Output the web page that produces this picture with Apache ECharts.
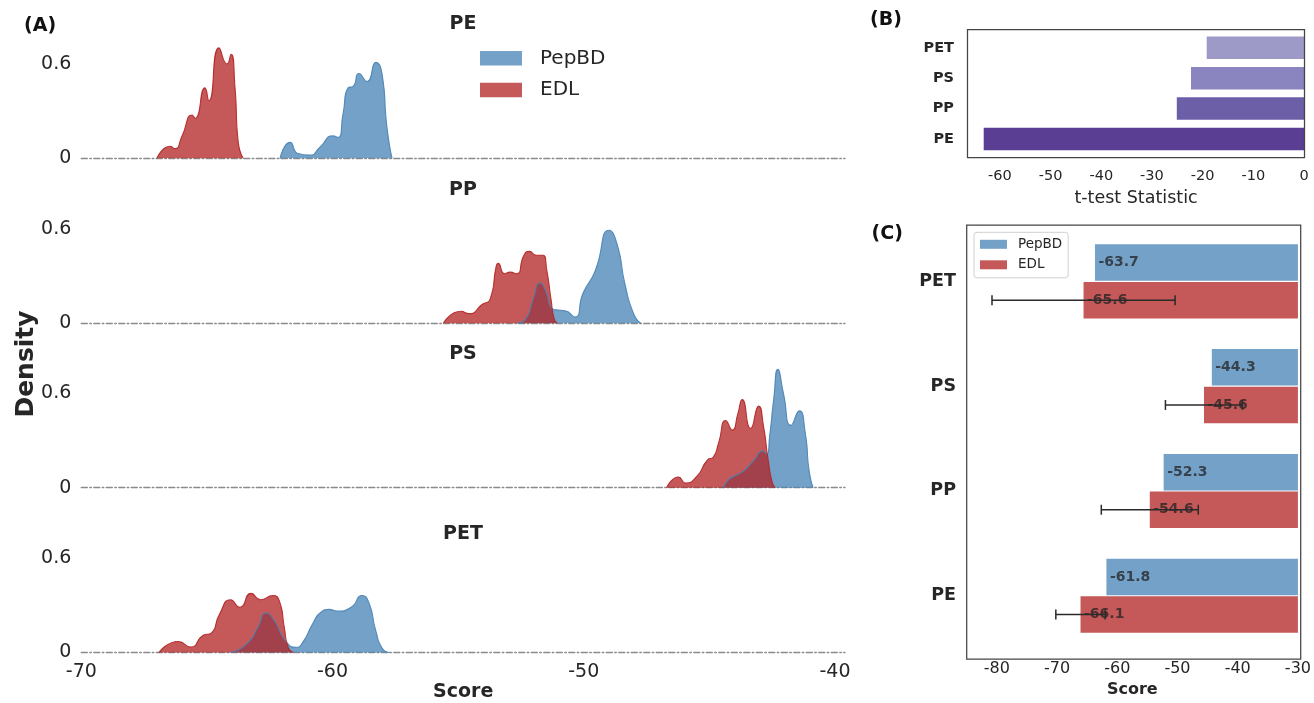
<!DOCTYPE html>
<html>
<head>
<meta charset="utf-8">
<script src="https://cdn.jsdelivr.net/npm/echarts@6/dist/echarts.min.js"></script>
<style>html,body{margin:0;padding:0;background:#fff;}#c{width:1314px;height:703px;}</style>
</head>
<body>
<div id="c"></div>
<script>
// ---------- Data ----------
const panelNames = ['PE', 'PP', 'PS', 'PET'];
const scoreTicks = [-70, -60, -50, -40];
const densityTicks = [0, 0.6];

// density curves [score, density]
const pepbdPE = [[-62.09,0],[-61.69,0.101],[-61.37,0.03],[-60.90,0.02],[-60.50,0.071],[-59.98,0.142],[-59.78,0.132],[-59.58,0.284],[-59.38,0.446],[-59.18,0.456],[-58.95,0.537],[-58.63,0.487],[-58.27,0.608],[-58.03,0.537],[-57.83,0.193],[-57.63,0]];
const edlPE = [[-66.99,0],[-66.47,0.076],[-66.27,0.061],[-65.99,0.142],[-65.59,0.274],[-65.47,0.254],[-65.08,0.446],[-64.92,0.365],[-64.52,0.70],[-64.20,0.598],[-64.04,0.659],[-63.88,0.446],[-63.76,0.112],[-63.56,0]];
const pepbdPP = [[-52.66,0],[-52.30,0.03],[-52.02,0.15],[-51.74,0.255],[-51.50,0.2],[-51.30,0.1],[-51.10,0.085],[-50.74,0.08],[-50.35,0.04],[-50.03,0.19],[-49.55,0.33],[-48.99,0.59],[-48.67,0.5],[-48.36,0.25],[-48.01,0.06],[-47.73,0]];
const edlPP = [[-55.59,0],[-54.89,0.076],[-54.57,0.061],[-54.02,0.122],[-53.73,0.152],[-53.48,0.365],[-53.41,0.38],[-53.15,0.314],[-52.93,0.324],[-52.67,0.314],[-52.38,0.431],[-52.17,0.456],[-51.88,0.431],[-51.62,0.431],[-51.47,0.335],[-51.30,0.15],[-51.18,0.03],[-51.06,0]];
const pepbdPS = [[-44.45,0],[-44.24,0.05],[-43.98,0.076],[-43.76,0.093],[-43.54,0.12],[-43.21,0.177],[-42.88,0.233],[-42.71,0.213],[-42.60,0.325],[-42.44,0.558],[-42.27,0.75],[-42.05,0.598],[-41.75,0.395],[-41.42,0.487],[-41.18,0.345],[-41.03,0.11],[-40.87,0]];
const edlPS = [[-46.70,0],[-46.23,0.068],[-45.94,0.03],[-45.50,0.071],[-45.07,0.177],[-44.85,0.193],[-44.63,0.284],[-44.35,0.426],[-44.08,0.365],[-43.87,0.466],[-43.69,0.558],[-43.36,0.375],[-43.04,0.517],[-42.84,0.385],[-42.66,0.177],[-42.49,0.03],[-42.38,0]];
const pepbdPET = [[-64.06,0],[-63.41,0.055],[-62.97,0.16],[-62.65,0.25],[-62.32,0.203],[-61.88,0.076],[-61.45,0.033],[-61.18,0.066],[-60.79,0.182],[-60.46,0.256],[-60.14,0.273],[-59.80,0.262],[-59.26,0.287],[-58.83,0.361],[-58.56,0.319],[-58.28,0.14],[-58.02,0.027],[-57.73,0]];
const edlPET = [[-66.91,0],[-66.14,0.07],[-65.64,0.035],[-65.16,0.108],[-64.83,0.123],[-64.50,0.243],[-64.06,0.334],[-63.69,0.287],[-63.24,0.375],[-62.86,0.334],[-62.38,0.361],[-62.10,0.319],[-61.92,0.16],[-61.77,0.033],[-61.55,0]];

// Panel B
const tCats = ['PE', 'PP', 'PS', 'PET'];
const tStat = [-63.2, -25.1, -22.3, -19.2];
const tTicks = [-60, -50, -40, -30, -20, -10, 0];

// Panel C
const scoreCats = ['PE', 'PP', 'PS', 'PET'];
const pepbdMean = [-61.8, -52.3, -44.3, -63.7];
const edlMean = [-66.1, -54.6, -45.6, -65.6];
const edlErr = [4.1, 8.05, 6.4, 15.2];
const scoreTicksC = [-80, -70, -60, -50, -40, -30];

// ---------- Styles ----------
const BLUE = '#4682B4', RED = '#B22222', ALPHA = 0.75;
const TXT = '#262626';
const FONT = 'DejaVu Sans';
const purples = ['#5a3e94', '#6d5ea8', '#8a84bf', '#9e9ac8'];

const pepbdCurves = [pepbdPE, pepbdPP, pepbdPS, pepbdPET];
const edlCurves = [edlPE, edlPP, edlPS, edlPET];
const baselines = [158.3, 323.3, 487.7, 652.5];
const yMax = 0.8, pxPerUnit = 157.8;
const gH = yMax * pxPerUnit;
const titleCenters = [24.5, 190, 354, 534.5];
const SMOOTH = 0.6;

const grids = [], xAxes = [], yAxes = [], series = [], titles = [];
for (let i = 0; i < 4; i++) {
  grids.push({left: 81.3, right: 1314 - 845, top: baselines[i] - gH, height: gH});
  const last = i === 3;
  xAxes.push({
    gridIndex: i, type: 'value', min: -70, max: -39.6,
    axisLine: {show: true, onZero: false, lineStyle: {color: '#8a8a8a', width: 1.4, type: [6, 2.5, 1.5, 2.5]}},
    axisTick: {show: false}, splitLine: {show: false},
    axisLabel: {show: last, customValues: scoreTicks, fontSize: 19, color: TXT, fontFamily: FONT, margin: 10},
    name: last ? 'Score' : '', nameLocation: 'middle', nameGap: 30,
    nameTextStyle: {fontSize: 19, fontWeight: 'bold', color: TXT, fontFamily: FONT}
  });
  yAxes.push({
    gridIndex: i, type: 'value', min: 0, max: yMax,
    axisLine: {show: false}, axisTick: {show: false}, splitLine: {show: false},
    axisLabel: {customValues: densityTicks, fontSize: 19, color: TXT, fontFamily: FONT, margin: 10}
  });
  series.push({
    type: 'line', name: 'PepBD', xAxisIndex: i, yAxisIndex: i, data: pepbdCurves[i],
    smooth: SMOOTH, showSymbol: false, silent: true, z: 3,
    lineStyle: {color: BLUE, width: 1.1, opacity: 0.9}, itemStyle: {color: BLUE},
    areaStyle: {color: BLUE, opacity: ALPHA}
  });
  series.push({
    type: 'line', name: 'EDL', xAxisIndex: i, yAxisIndex: i, data: edlCurves[i],
    smooth: SMOOTH, showSymbol: false, silent: true, z: 3,
    lineStyle: {color: RED, width: 1.1, opacity: 0.9}, itemStyle: {color: RED},
    areaStyle: {color: RED, opacity: ALPHA}
  });
  titles.push({text: panelNames[i], left: 463, top: titleCenters[i] - 10, textAlign: 'center', padding: 0,
    textStyle: {fontSize: 19, fontWeight: 'bold', color: TXT, fontFamily: FONT, lineHeight: 20}});
}

// Panel B grid (index 4)
grids.push({left: 968, right: 10, top: 32.6, height: 121.6});
xAxes.push({
  gridIndex: 4, type: 'value', min: -66.3, max: 0,
  axisLine: {show: false}, axisTick: {show: false}, splitLine: {show: false},
  axisLabel: {customValues: tTicks, fontSize: 14.5, color: TXT, fontFamily: FONT, margin: 15},
  name: 't-test Statistic', nameLocation: 'middle', nameGap: 35,
  nameTextStyle: {fontSize: 17.5, color: TXT, fontFamily: FONT}
});
yAxes.push({
  gridIndex: 4, type: 'category', data: tCats,
  axisLine: {show: false}, axisTick: {show: false},
  axisLabel: {fontSize: 14.5, fontWeight: 'bold', color: TXT, fontFamily: FONT, margin: 14}
});
series.push({
  type: 'bar', xAxisIndex: 4, yAxisIndex: 4, barWidth: 22.5, silent: true,
  data: tStat.map((v, k) => ({value: v, itemStyle: {color: purples[k]}}))
});

// Panel C grid (index 5)
grids.push({left: 966.7, right: 1314 - 1300.7, top: 229, height: 426});
xAxes.push({
  gridIndex: 5, type: 'value', min: -85, max: -30,
  axisLine: {show: false}, axisTick: {show: false}, splitLine: {show: false},
  axisLabel: {customValues: scoreTicksC, fontSize: 16, color: TXT, fontFamily: FONT, margin: 13},
  name: 'Score', nameLocation: 'middle', nameGap: 33,
  nameTextStyle: {fontSize: 16, fontWeight: 'bold', color: TXT, fontFamily: FONT}
});
yAxes.push({
  gridIndex: 5, type: 'category', data: scoreCats,
  axisLine: {show: false}, axisTick: {show: false},
  axisLabel: {fontSize: 17.5, fontWeight: 'bold', color: TXT, fontFamily: FONT, margin: 10.7}
});
const barW = 36.5, barGapPct = 3;
const barLabel = {show: true, position: 'insideLeft', distance: 3.5, fontSize: 14, fontWeight: 'bold',
  color: '#222', fontFamily: FONT, formatter: p => p.value.toFixed(1)};
series.push({
  type: 'bar', name: 'PepBD', xAxisIndex: 5, yAxisIndex: 5, barWidth: barW, barGap: barGapPct + '%',
  data: pepbdMean, itemStyle: {color: BLUE, opacity: ALPHA}, label: barLabel, silent: true
});
series.push({
  type: 'bar', name: 'EDL', xAxisIndex: 5, yAxisIndex: 5, barWidth: barW, barGap: barGapPct + '%',
  data: edlMean, itemStyle: {color: RED, opacity: ALPHA}, label: barLabel, silent: true
});
const redOffset = (barW + barW * barGapPct / 100) / 2;
series.push({
  type: 'custom', xAxisIndex: 5, yAxisIndex: 5, silent: true, z: 5,
  data: edlMean.map((m, k) => [m - edlErr[k], m + edlErr[k], k]),
  encode: {x: [0, 1], y: 2},
  renderItem: function (params, api) {
    const c = api.value(2);
    const p1 = api.coord([api.value(0), c]);
    const p2 = api.coord([api.value(1), c]);
    const y = p1[1] + redOffset;
    const st = {stroke: '#2a2a2a', lineWidth: 1.5};
    return {type: 'group', children: [
      {type: 'line', shape: {x1: p1[0], y1: y, x2: p2[0], y2: y}, style: st},
      {type: 'line', shape: {x1: p1[0], y1: y - 5, x2: p1[0], y2: y + 5}, style: st},
      {type: 'line', shape: {x1: p2[0], y1: y - 5, x2: p2[0], y2: y + 5}, style: st}
    ]};
  }
});

const panelLetter = {fontSize: 19, fontWeight: 'bold', color: '#111', fontFamily: FONT, lineHeight: 19};
titles.push({text: '(A)', left: 24, top: 16.5, padding: 0, textStyle: panelLetter});
titles.push({text: '(B)', left: 870, top: 10.5, padding: 0, textStyle: panelLetter});
titles.push({text: '(C)', left: 871.5, top: 224.5, padding: 0, textStyle: panelLetter});

const option = {
  backgroundColor: '#fff',
  animation: false,
  title: titles,
  grid: grids,
  xAxis: xAxes,
  yAxis: yAxes,
  legend: [
    {
      orient: 'vertical', left: 480, top: 48.3, padding: 0,
      itemWidth: 42, itemHeight: 14.5, itemGap: 11.7, icon: 'rect', selectedMode: false,
      textStyle: {fontSize: 20, color: TXT, fontFamily: FONT, padding: [0, 0, 0, 13]},
      data: [
        {name: 'PepBD', itemStyle: {color: BLUE, opacity: ALPHA}},
        {name: 'EDL', itemStyle: {color: RED, opacity: ALPHA}}
      ]
    },
    {
      orient: 'vertical', left: 974, top: 232.3, padding: [5, 6, 6, 6],
      itemWidth: 27, itemHeight: 9, itemGap: 6.5, icon: 'rect', selectedMode: false,
      borderColor: '#d0d0d0', borderWidth: 1, borderRadius: 3, backgroundColor: 'rgba(255,255,255,0.85)',
      textStyle: {fontSize: 13.5, color: TXT, fontFamily: FONT, padding: [0, 0, 0, 6]},
      data: [
        {name: 'PepBD', itemStyle: {color: BLUE, opacity: ALPHA}},
        {name: 'EDL', itemStyle: {color: RED, opacity: ALPHA}}
      ]
    }
  ],
  graphic: [
    {type: 'rect', z: 100, silent: true, shape: {x: 967.5, y: 29.5, width: 337, height: 128},
      style: {fill: 'none', stroke: '#444', lineWidth: 1.25}},
    {type: 'rect', z: 100, silent: true, shape: {x: 966.7, y: 225, width: 334, height: 434},
      style: {fill: 'none', stroke: '#444', lineWidth: 1.25}},
    {type: 'text', z: 100, silent: true, x: 26, y: 364, rotation: Math.PI / 2,
      style: {text: 'Density', fontSize: 25, fontWeight: 'bold', fill: TXT, fontFamily: FONT,
        align: 'center', verticalAlign: 'middle'}}
  ],
  series: series
};
const chart = echarts.init(document.getElementById('c'), null, {renderer: 'canvas'});
chart.setOption(option);
</script>
</body>
</html>
